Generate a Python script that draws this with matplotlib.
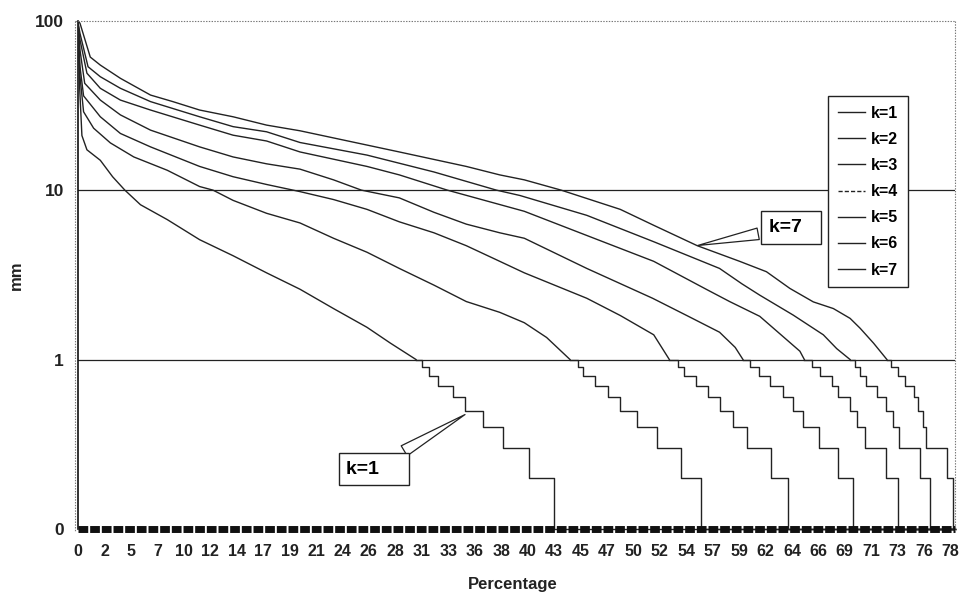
import numpy as np
import matplotlib
matplotlib.use("Agg")
import matplotlib.pyplot as plt
from matplotlib.lines import Line2D

plt.rcParams['font.family'] = ['Liberation Sans', 'DejaVu Sans']
plt.rcParams['lines.scale_dashes'] = False

# ---------------- data ----------------
tick_labels = ["0", "2", "5", "7", "10", "12", "14", "17", "19", "21", "24", "26",
               "28", "31", "33", "36", "38", "40", "43", "45", "47", "50", "52", "54",
               "57", "59", "62", "64", "66", "69", "71", "73", "76", "78"]
series_names = ["k=1", "k=2", "k=3", "k=4", "k=5", "k=6", "k=7"]

# smooth upper part of each curve (percentage, mm)
k1_pct = [0.0, 0.15, 0.35, 0.8, 2.0, 3.1, 4.2, 5.6, 8.0, 10.9, 13.9, 16.9, 19.9, 22.9, 25.9, 28.0, 30.3]
k1_mm = [95, 40, 21, 17.3, 15.0, 12.0, 10.0, 8.2, 6.7, 5.1, 4.1, 3.25, 2.6, 2.0, 1.55, 1.25, 1.0]

k2_pct = [0.0, 0.18, 0.5, 1.4, 2.9, 5.0, 8.0, 10.9, 12.1, 13.9, 16.9, 19.9, 22.9, 25.9, 28.8,
          31.9, 34.8, 37.8, 40.0, 42.0, 44.1]
k2_mm = [92, 46.7, 29, 23.2, 19.0, 15.7, 13.1, 10.5, 10.0, 8.7, 7.3, 6.4, 5.2, 4.3, 3.45,
         2.75, 2.2, 1.9, 1.65, 1.35, 1.0]

k3_pct = [0.0, 0.18, 0.5, 2.0, 3.8, 6.5, 10.9, 13.9, 16.9, 19.9, 22.9, 25.9, 28.8, 31.9,
          34.8, 37.8, 40.0, 43.8, 45.6, 48.6, 51.6, 53.0]
k3_mm = [93, 53.5, 36, 27.1, 21.6, 18.0, 13.8, 12.0, 10.8, 9.8, 8.8, 7.7, 6.5, 5.6,
         4.7, 3.8, 3.25, 2.57, 2.3, 1.82, 1.4, 1.0]

k4_pct = [0.0, 0.18, 0.6, 2.0, 3.8, 6.5, 10.9, 13.9, 16.9, 19.9, 22.9, 25.4, 28.8, 31.9,
          34.8, 37.8, 40.0, 45.6, 51.5, 54.7, 57.5, 58.9, 59.6]
k4_mm = [95, 67, 42.7, 34.0, 27.8, 22.6, 18.0, 15.7, 14.3, 13.3, 11.5, 10.0, 9.0, 7.4,
         6.3, 5.6, 5.2, 3.45, 2.3, 1.8, 1.45, 1.18, 1.0]

k5_pct = [0.0, 0.18, 0.8, 2.0, 3.8, 6.5, 10.9, 13.9, 16.9, 19.9, 25.9, 28.8, 33.1, 40.0,
          45.6, 51.6, 56.3, 58.4, 61.1, 62.9, 64.7, 65.1]
k5_mm = [97, 77, 49, 39.9, 34.0, 29.7, 24.2, 21.1, 19.5, 16.8, 13.8, 12.3, 10.0, 7.5,
         5.4, 3.8, 2.6, 2.2, 1.8, 1.42, 1.12, 1.0]

k6_pct = [0.0, 0.18, 0.9, 2.0, 3.8, 6.5, 10.9, 13.9, 16.9, 19.9, 25.9, 31.9, 37.5, 39.6,
          45.6, 51.6, 57.5, 59.5, 61.1, 64.1, 66.8, 68.0, 69.2]
k6_mm = [98, 84, 53.5, 46.7, 39.9, 33.3, 27.1, 23.7, 22.1, 19.1, 16.1, 12.8, 10.0, 9.3,
         7.1, 4.96, 3.45, 2.8, 2.4, 1.83, 1.4, 1.16, 1.0]

k7_pct = [0.0, 0.18, 1.1, 2.0, 3.8, 6.5, 8.5, 10.9, 13.9, 16.9, 19.9, 28.8, 34.8, 37.8,
          40.0, 43.3, 48.6, 51.6, 55.5, 59.3, 61.7, 63.8, 65.9, 67.7, 69.2, 70.1, 71.3, 72.5]
k7_mm = [100, 96.5, 61, 54.7, 45.7, 36.4, 33.3, 29.7, 27.1, 24.2, 22.4, 16.8, 13.8, 12.3,
         11.5, 10.0, 7.7, 6.2, 4.7, 3.8, 3.3, 2.63, 2.19, 2.0, 1.75, 1.53, 1.25, 1.0]

# stepped lower part: percentage where each level starts (last = drop to bottom)
step_levels = [1.0, 0.9, 0.8, 0.7, 0.6, 0.5, 0.4, 0.3, 0.2, 0.1]
k1_steps = [30.3, 30.8, 31.5, 32.3, 33.6, 34.7, 36.3, 38.1, 40.4, 42.7]
k2_steps = [44.1, 44.8, 45.3, 46.3, 47.5, 48.6, 50.1, 51.9, 54.0, 55.8]
k3_steps = [53.0, 53.8, 54.3, 55.4, 56.5, 57.5, 58.7, 60.0, 62.1, 63.6]
k4_steps = [59.6, 60.2, 61.0, 62.0, 63.2, 64.1, 65.0, 66.4, 68.1, 69.5]
k5_steps = [65.1, 65.8, 66.5, 67.6, 68.1, 69.2, 69.8, 70.5, 72.4, 73.5]
k6_steps = [69.2, 69.6, 70.1, 70.6, 71.6, 72.4, 73.0, 73.6, 75.5, 76.4]
k7_steps = [72.5, 72.9, 73.5, 74.1, 74.9, 75.3, 75.7, 76.0, 77.9, 78.4]

curves = [(k1_pct, k1_mm, k1_steps), (k2_pct, k2_mm, k2_steps), (k3_pct, k3_mm, k3_steps),
          (k4_pct, k4_mm, k4_steps), (k5_pct, k5_mm, k5_steps), (k6_pct, k6_mm, k6_steps),
          (k7_pct, k7_mm, k7_steps)]

# ---------------- figure ----------------
W, H = 960, 594
X_MAX = 78.6
fig = plt.figure(figsize=(W / 100, H / 100), dpi=100)
ax = fig.add_axes([78 / W, 1 - 529 / H, (955 - 78) / W, (529 - 20.7) / H])
ax.set_yscale('log')
ax.set_ylim(0.1, 100)
ax.set_xlim(0, X_MAX)

line_color = '#222222'
for pct, mm, steps in curves:
    ax.plot(pct, mm, color=line_color, lw=1.0, zorder=3)
    xs = list(steps) + [X_MAX]
    ys = list(step_levels) + [step_levels[-1]]
    ax.plot(xs, ys, color=line_color, lw=1.0, drawstyle='steps-post', zorder=3,
            clip_on=False)

# gridlines at 1 and 10
for g in (1, 10):
    ax.axhline(g, color='#222222', lw=0.9, zorder=2)

# thick dashed category axis at the bottom
ax.plot([0, X_MAX], [0.1, 0.1], color='#111111', lw=5, dashes=(7, 1.4),
        solid_capstyle='butt', dash_capstyle='butt', clip_on=False, zorder=4)

# spines / frame
for s in ('top', 'right', 'bottom'):
    ax.spines[s].set_visible(False)
ax.spines['left'].set_color('#111111')
ax.spines['left'].set_linewidth(1.2)
frame_kw = dict(color='#777777', lw=0.8, linestyle=(0, (1, 1)))
fig.add_artist(Line2D([75 / W, 955 / W], [1 - 20.7 / H, 1 - 20.7 / H], **frame_kw))
fig.add_artist(Line2D([955 / W, 955 / W], [1 - 20.7 / H, 1 - 531 / H], **frame_kw))
fig.add_artist(Line2D([75 / W, 75 / W], [1 - 20.7 / H, 1 - 531 / H], **frame_kw))

# ticks
ax.set_yticks([0.1, 1, 10, 100])
ax.set_yticklabels(["0", "1", "10", "100"])
ax.yaxis.set_minor_locator(matplotlib.ticker.NullLocator())
ax.set_xticks(np.linspace(0, 78.2, len(tick_labels)))
ax.set_xticklabels(tick_labels)
ax.tick_params(axis='y', length=0, pad=10, labelsize=12.5)
ax.tick_params(axis='x', length=0, pad=11, labelsize=11.5)
for lab in ax.get_xticklabels() + ax.get_yticklabels():
    lab.set_fontweight('bold')
    lab.set_color('#222222')

ax.set_ylabel("mm", fontsize=12, fontweight='bold', color='#222222')
ax.yaxis.set_label_coords(-0.062, 0.5)
ax.set_xlabel("Percentage", fontsize=12, fontweight='bold', color='#222222')
ax.xaxis.set_label_coords(0.496, -0.095)

# legend
handles = []
for i, name in enumerate(series_names):
    ls = (0, (3, 1.5)) if name == "k=4" else '-'
    handles.append(Line2D([], [], color=line_color, lw=1.0, linestyle=ls))
leg = ax.legend(handles, series_names, loc='upper left',
                bbox_to_anchor=(828 / W, 1 - 96 / H), bbox_transform=fig.transFigure,
                borderaxespad=0, frameon=True, fancybox=False, framealpha=1,
                edgecolor='#222222', handlelength=1.7,
                handletextpad=0.4, labelspacing=0.7, borderpad=0.6,
                prop={'weight': 'bold', 'size': 11.5})
leg.get_frame().set_linewidth(1.0)
leg.set_zorder(6)

# callouts
box_kw = dict(boxstyle='square,pad=0.4', fc='white', ec='#222222', lw=1.0)
arrow_kw = dict(arrowstyle='wedge,tail_width=0.6,shrink_factor=0.5', fc='white',
                ec='#222222', lw=0.9)
ax.annotate("k=7  ", xy=(55.3, 4.68), xytext=(63.9, 6.02), fontsize=14,
            fontweight='bold', ha='center', va='center', bbox=box_kw,
            arrowprops=arrow_kw, zorder=7)
ax.annotate("k=1    ", xy=(34.9, 0.483), xytext=(26.5, 0.226), fontsize=14,
            fontweight='bold', ha='center', va='center', bbox=box_kw,
            arrowprops=arrow_kw, zorder=7)

fig.savefig("out.png", dpi=100)
